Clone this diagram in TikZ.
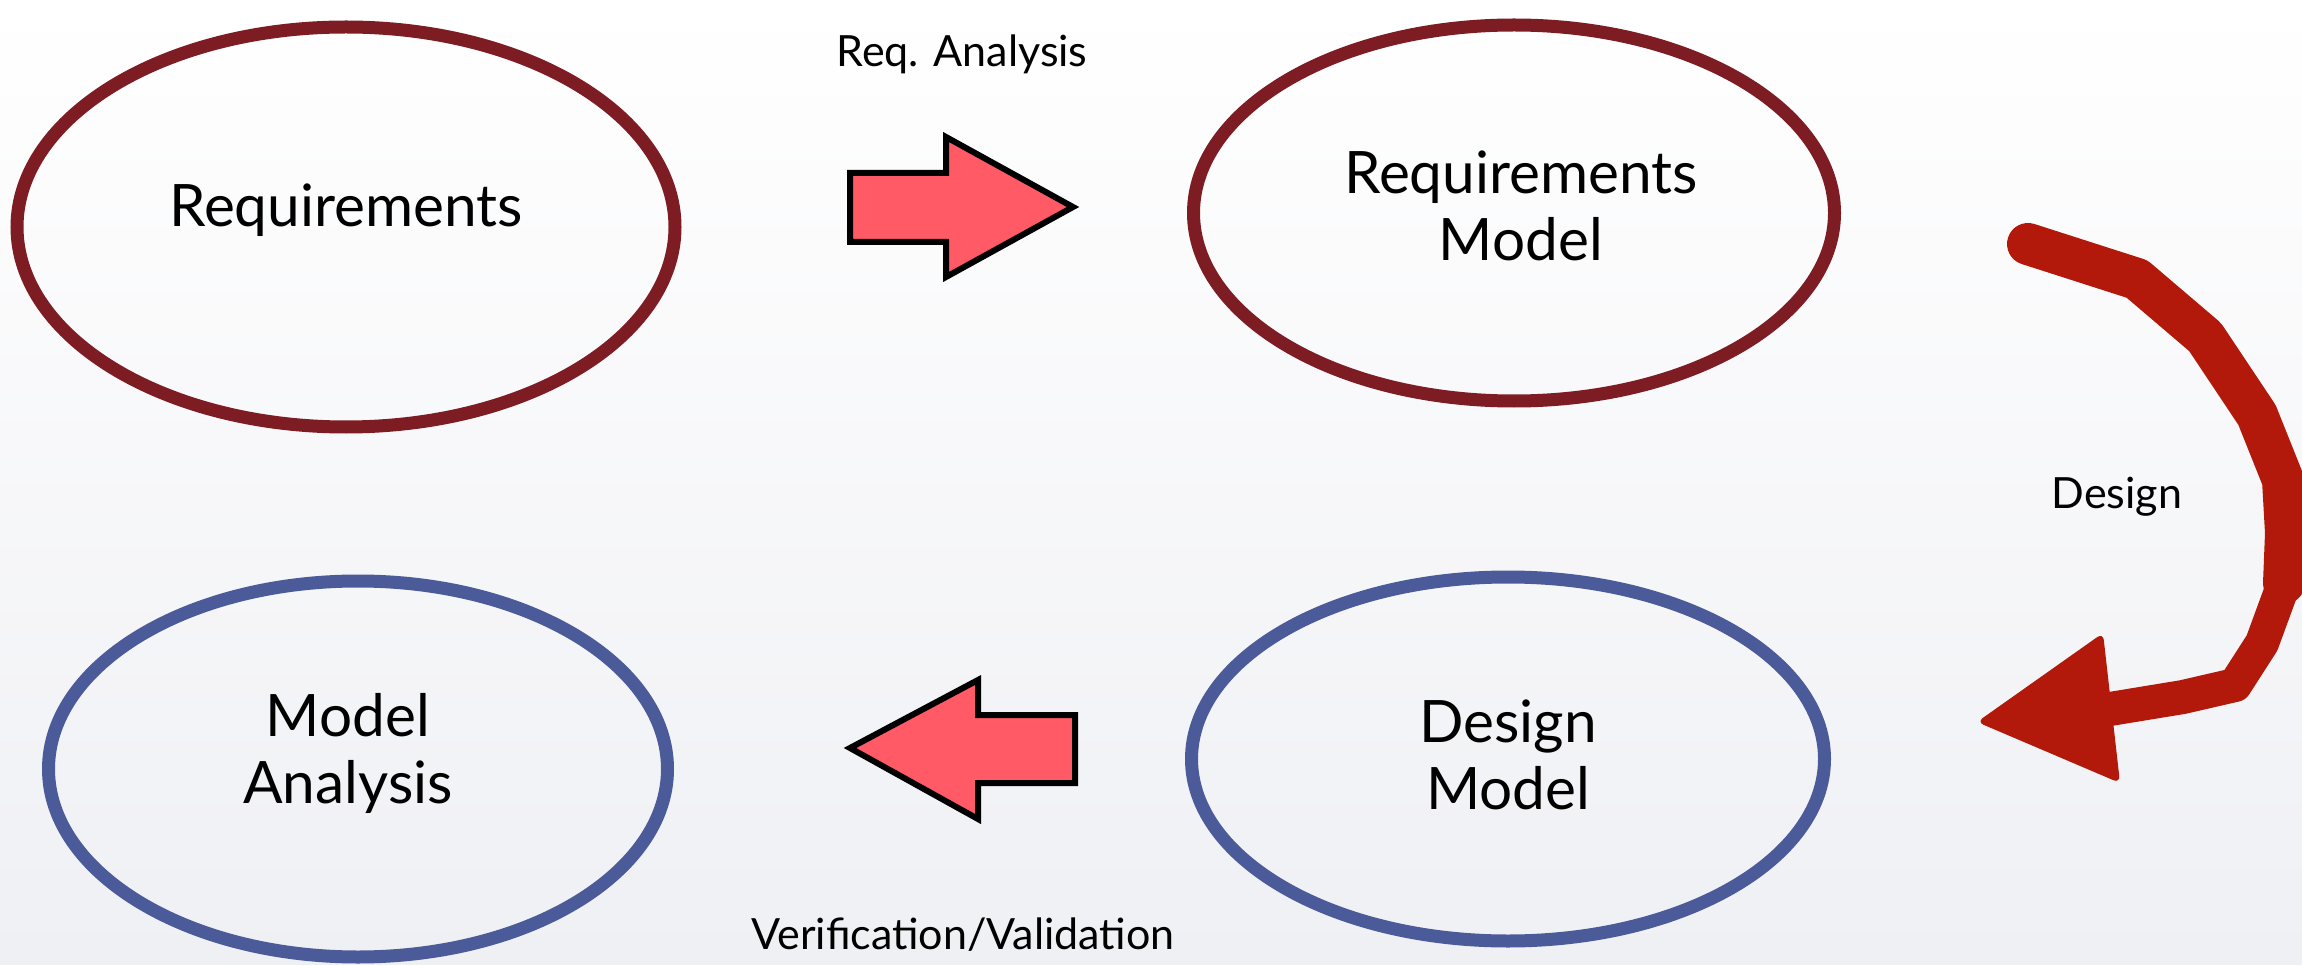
\documentclass[tikz,border=0pt]{standalone}
\usepackage{fontspec}
\setmainfont{Lato}
\usetikzlibrary{shapes.geometric}
\definecolor{maroon}{HTML}{7E1C24}
\definecolor{slateblue}{HTML}{4B5A98}
\definecolor{coral}{HTML}{FF5A66}
\definecolor{brick}{HTML}{B2190B}
\definecolor{bgbottom}{HTML}{EFF0F4}
\begin{document}
\begin{tikzpicture}[x=1pt,y=-1pt,
  ellbase/.style={ellipse, line width=13pt, inner sep=0pt},
  redell/.style={ellbase, draw=maroon},
  blueell/.style={ellbase, draw=slateblue},
  bigtxt/.style={font=\fontsize{58.5}{67}\selectfont, align=center, inner sep=0pt},
  smalltxt/.style={font=\fontsize{43}{50}\selectfont, inner sep=0pt},
  blockarrow/.style={fill=coral, draw=black, line width=6pt, line join=miter},
  curve/.style={draw=brick, line cap=round, line join=round}
]
\fill[top color=white, bottom color=bgbottom] (0,0) rectangle (2302,965);
\useasboundingbox (0,0) rectangle (2302,965);

% ellipses
\node[redell, minimum width=658pt, minimum height=400pt] (req) at (346,227) {};
\node[redell, minimum width=641pt, minimum height=376pt] (reqm) at (1514,213) {};
\node[blueell, minimum width=619pt, minimum height=376pt] (ma) at (358,769) {};
\node[blueell, minimum width=633pt, minimum height=364pt] (dm) at (1508,759) {};

% texts
\node[bigtxt] (reqt) at (346,210) {Requirements};
\node[bigtxt] (reqmt) at (1521,206) {Requirements\\Model};
\node[bigtxt] (mat) at (348,753) {Model\\Analysis};
\node[bigtxt] (dmt) at (1508,755) {Design\\Model};

% labels
\node[smalltxt] (lra) at (962,54) {Req. Analysis};
\node[smalltxt] (ldes) at (2117,497) {Design};
\node[smalltxt] (lvv) at (963,935) {Verification/Validation};

% block arrows
\draw[blockarrow] (850,173) -- (946,173) -- (946,137) -- (1073,207) -- (946,277) -- (946,242) -- (850,242) -- cycle;
\draw[blockarrow] (850,748) -- (978,680) -- (978,715) -- (1075,715) -- (1075,783) -- (978,783) -- (978,819) -- cycle;

% curved arrow
\coordinate (c0) at (2028,244);
\coordinate (c1) at (2137,279);
\coordinate (c2) at (2205,337);
\coordinate (c3) at (2257,415);
\coordinate (c4) at (2283,480);
\coordinate (c5) at (2286,533);
\coordinate (c6) at (2284,583);
\coordinate (c7) at (2262,643);
\coordinate (c8) at (2235,685);
\coordinate (c9) at (2183,697);
\coordinate (c10) at (2110,709);
\draw[curve, line width=42pt] (c0) -- (c1) -- (c2) -- (c3) -- (c4) -- (c5) -- (c6);
\draw[curve, line width=34pt] (c6) -- (c7) -- (c8) -- (c9) -- (c10);
\coordinate (h1) at (2103,633);
\coordinate (h2) at (1977,722);
\coordinate (h3) at (2120,783);
\fill[brick, rounded corners=7pt] (h1) -- (h2) -- (h3) -- cycle;
\end{tikzpicture}
\end{document}
